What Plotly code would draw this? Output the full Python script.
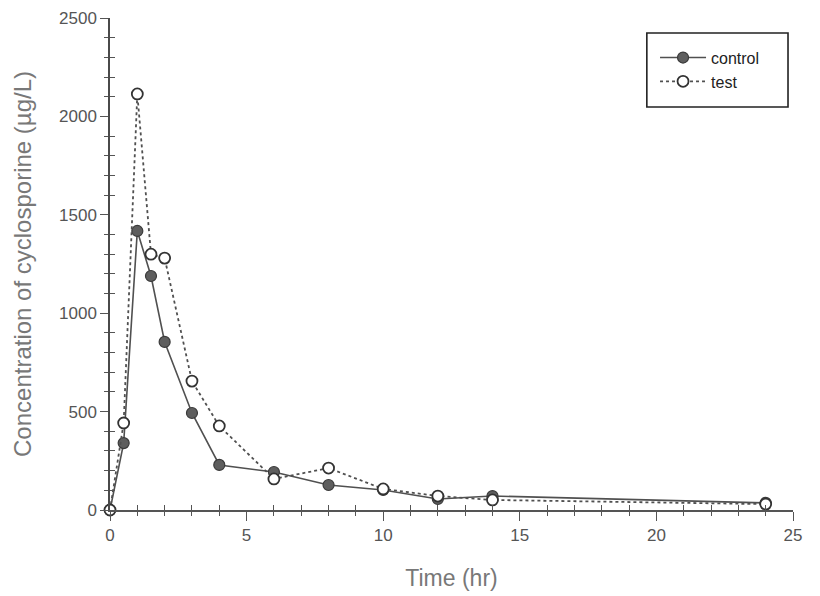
import plotly.graph_objects as go

time_hr = [0, 0.5, 1, 1.5, 2, 3, 4, 6, 8, 10, 12, 14, 24]
control = [0, 340, 1418, 1189, 854, 493, 229, 193, 127, 102, 56, 71, 36]
test = [0, 442, 2114, 1300, 1280, 655, 427, 158, 213, 107, 71, 51, 30]

x_major_vals = [0, 5, 10, 15, 20, 25]
y_major_vals = [0, 500, 1000, 1500, 2000, 2500]
x_minor_vals = [v for v in range(1, 25) if v % 5 != 0]
y_minor_vals = [v for v in range(100, 2500, 100) if v % 500 != 0]

FONT = "Liberation Sans, Arial, sans-serif"

fig = go.Figure()
fig.add_trace(go.Scatter(
    x=time_hr, y=control, name="control", mode="lines+markers",
    cliponaxis=False,
    line=dict(color="#505050", width=1.6, dash="solid"),
    marker=dict(symbol="circle", size=11, color="#5e5e5e",
                line=dict(color="#3a3a3a", width=1.2)),
))
fig.add_trace(go.Scatter(
    x=time_hr, y=test, name="test", mode="lines+markers",
    cliponaxis=False,
    line=dict(color="#505050", width=1.8, dash="dot"),
    marker=dict(symbol="circle", size=11, color="white",
                line=dict(color="#333333", width=1.8)),
))

tick_font = dict(family=FONT, size=17, color="#555555")
title_font_x = dict(family=FONT, size=23, color="#787878")
title_font_y = dict(family=FONT, size=24, color="#787878")

fig.update_layout(
    width=812, height=588,
    paper_bgcolor="white", plot_bgcolor="white",
    margin=dict(l=102, r=27, t=10, b=86),
    font=dict(family=FONT, color="#444444"),
    showlegend=True,
    legend=dict(x=0.798, xanchor="left", y=0.954, yanchor="top",
                bgcolor="rgba(0,0,0,0)", borderwidth=0,
                font=dict(family=FONT, size=16, color="#222222"),
                itemwidth=46, tracegroupgap=0),
    xaxis=dict(range=[0, 25], tickvals=x_major_vals, automargin=False,
               ticks="outside", ticklen=9, tickcolor="#555555", tickwidth=1.2,
               showline=True, linecolor="#555555", linewidth=1.5,
               showgrid=False, zeroline=False, tickfont=tick_font,
               minor=dict(tickvals=x_minor_vals, ticks="outside", ticklen=4,
                          tickcolor="#555555", tickwidth=1.2),
               title=dict(text="Time (hr)", font=title_font_x, standoff=26)),
    yaxis=dict(range=[0, 2500], tickvals=y_major_vals, automargin=False,
               ticks="outside", ticklen=8, tickcolor="#555555", tickwidth=1.2,
               showline=True, linecolor="#4a4a4a", linewidth=1.5,
               showgrid=False, zeroline=False, tickfont=tick_font,
               minor=dict(tickvals=y_minor_vals, ticks="outside", ticklen=4,
                          tickcolor="#555555", tickwidth=1.2),
               title=dict(text="Concentration of cyclosporine (µg/L)",
                          font=title_font_y, standoff=21)),
    xaxis2=dict(overlaying="x", anchor="y", range=[0, 25], tickvals=x_minor_vals,
                automargin=False,
                ticks="inside", ticklen=5, tickcolor="#555555", tickwidth=1.2,
                showticklabels=False, showgrid=False, zeroline=False, showline=False),
    yaxis2=dict(overlaying="y", anchor="x", range=[0, 2500], tickvals=y_minor_vals,
                automargin=False,
                ticks="inside", ticklen=5, tickcolor="#555555", tickwidth=1.2,
                showticklabels=False, showgrid=False, zeroline=False, showline=False),
    shapes=[dict(type="rect", xref="paper", yref="paper",
                 x0=0.786, x1=0.9927, y0=0.819, y1=0.9695,
                 line=dict(color="#222222", width=1.6), fillcolor="rgba(0,0,0,0)")],
)
fig.add_trace(go.Scatter(x=[None], y=[None], xaxis="x2", yaxis="y2",
                         showlegend=False, hoverinfo="skip"))

fig.write_html("out.html")
